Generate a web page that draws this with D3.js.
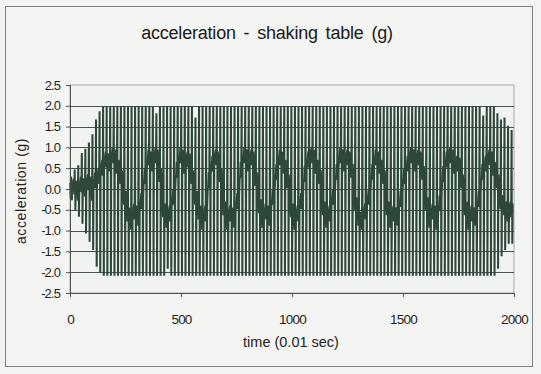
<!DOCTYPE html>
<html>
<head>
<meta charset="utf-8">
<script src="https://cdn.jsdelivr.net/npm/d3@7"></script>
<style>
  body { margin: 0; background: #f3f3f1; }
  svg { display: block; font-family: "Liberation Sans", Arial, sans-serif; }
</style>
</head>
<body>
<svg id="chart" width="541" height="374"></svg>
<script>
// samples per stroke of the table signal (0.01 s per sample)
const strokeStep = 16;

// peak value of each stroke (g)
const highs = [
  0.28, 0.45, 0.55, 0.85, 0.95, 1.1, 1.3, 1.65, 1.85, 1.98,
  1.98, 1.98, 1.98, 1.98, 1.98, 1.98, 1.98, 1.98, 1.98, 1.98,
  1.98, 1.98, 1.98, 1.98, 1.8, 1.98, 1.98, 1.98, 1.98, 1.98,
  1.98, 1.98, 1.98, 1.98, 1.98, 1.7, 1.98, 1.98, 1.98, 1.98,
  1.98, 1.98, 1.98, 1.98, 1.98, 1.98, 1.98, 1.98, 1.98, 1.98,
  1.98, 1.98, 1.98, 1.98, 1.98, 1.98, 1.98, 1.98, 1.98, 1.98,
  1.98, 1.98, 1.98, 1.98, 1.98, 1.98, 1.98, 1.98, 1.98, 1.98,
  1.98, 1.98, 1.98, 1.98, 1.98, 1.98, 1.98, 1.98, 1.98, 1.98,
  1.98, 1.98, 1.98, 1.98, 1.98, 1.98, 1.98, 1.98, 1.98, 1.98,
  1.98, 1.98, 1.98, 1.98, 1.98, 1.98, 1.98, 1.98, 1.98, 1.98,
  1.98, 1.98, 1.98, 1.98, 1.98, 1.98, 1.98, 1.98, 1.98, 1.98,
  1.98, 1.98, 1.98, 1.98, 1.98, 1.98, 1.75, 1.98, 1.98, 1.98,
  1.8, 1.65, 1.7, 1.5, 1.4
];

// trough value of each stroke (g)
const lows = [
  -0.25, -0.5, -0.65, -0.82, -1.05, -1.25, -1.45, -1.85, -2.0, -2.07,
  -2.07, -2.07, -2.07, -2.07, -2.07, -2.07, -2.07, -2.07, -2.07, -2.07,
  -2.07, -2.07, -2.07, -2.07, -2.07, -2.07, -2.07, -1.9, -2.07, -2.07,
  -2.07, -2.07, -2.07, -2.07, -2.07, -2.07, -2.07, -2.07, -2.07, -2.07,
  -2.07, -2.07, -2.07, -2.07, -2.07, -2.07, -2.07, -2.07, -2.07, -2.07,
  -2.07, -2.07, -2.07, -2.07, -2.07, -2.07, -2.07, -2.07, -2.07, -2.07,
  -2.07, -2.07, -2.07, -2.07, -2.07, -2.07, -2.07, -2.07, -2.07, -2.07,
  -2.07, -2.07, -2.07, -2.07, -2.07, -2.07, -2.07, -2.07, -2.07, -2.07,
  -2.07, -2.07, -2.07, -2.07, -2.07, -2.07, -2.07, -2.07, -2.07, -2.07,
  -2.07, -2.07, -2.07, -2.07, -2.07, -2.07, -2.07, -2.07, -2.07, -2.07,
  -2.07, -2.07, -2.07, -2.07, -2.07, -2.07, -2.07, -2.07, -2.07, -2.07,
  -2.07, -2.07, -2.07, -2.07, -2.07, -2.07, -2.07, -2.07, -2.07, -2.07,
  -1.9, -1.6, -1.45, -1.3, -1.3
];

// slow level the trace rests on between strokes (g)
const levels = [
  -0.05, 0.05, -0.1, 0.1, 0.0, 0.15, -0.1, 0.2, 0.3, 0.5,
  0.7, 0.6, 0.8, 0.55, 0.3, -0.2, -0.6, -0.8, -0.55, -0.7,
  -0.3, 0.3, 0.75, 0.6, 0.8, 0.35, -0.5, -0.75, -0.6, -0.2,
  0.45, 0.8, 0.55, 0.7, 0.3, -0.2, -0.55, -0.8, -0.6, 0.2,
  0.6, 0.75, 0.35, -0.45, -0.8, -0.6, -0.75, -0.3, 0.45, 0.8,
  0.6, 0.75, 0.25, -0.4, -0.75, -0.55, -0.7, -0.2, 0.4, 0.75,
  0.55, 0.2, -0.5, -0.8, -0.6, -0.3, 0.35, 0.7, 0.8, 0.55,
  0.3, -0.45, -0.75, -0.6, -0.2, 0.4, 0.8, 0.6, 0.75, 0.45,
  -0.35, -0.7, -0.8, -0.55, -0.2, 0.4, 0.75, 0.55, 0.3, -0.45,
  -0.75, -0.6, -0.7, -0.25, 0.3, 0.6, 0.8, 0.6, 0.75, 0.4,
  -0.35, -0.75, -0.55, -0.8, -0.35, 0.35, 0.7, 0.8, 0.55, 0.6,
  0.2, -0.45, -0.8, -0.6, -0.7, -0.25, 0.4, 0.6, 0.75, 0.5,
  0.2, -0.3, -0.45, -0.6, -0.5
];

// small wobble of the trace around its rest level (g), before and after each stroke
const wobbleBefore = [0.2, -0.18];
const wobbleAfter = [0.15];

const xTicks = [0, 500, 1000, 1500, 2000];
const yTicks = [-2.5, -2, -1.5, -1, -0.5, 0, 0.5, 1, 1.5, 2, 2.5];

const svg = d3.select("#chart");

const x = d3.scaleLinear().domain([0, 2000]).range([70, 514]);
const y = d3.scaleLinear().domain([-2.5, 2.5]).range([293, 85]);

// outer chart frame
svg.append("rect")
  .attr("x", 5.5).attr("y", 6.5)
  .attr("width", 527).attr("height", 360)
  .attr("fill", "#f4f4f2")
  .attr("stroke", "#7f837f");

// plot area
svg.append("rect")
  .attr("x", x(0)).attr("y", y(2.5))
  .attr("width", x(2000) - x(0)).attr("height", y(-2.5) - y(2.5))
  .attr("fill", "#f1f3f0")
  .attr("stroke", "#a4aaa5");

// gridlines
svg.append("g")
  .selectAll("line")
  .data(yTicks.filter((d) => d > -2.5 && d < 2.5))
  .join("line")
  .attr("x1", x(0)).attr("x2", x(2000))
  .attr("y1", (d) => Math.round(y(d)) + 0.5)
  .attr("y2", (d) => Math.round(y(d)) + 0.5)
  .attr("stroke", "#4a554e")
  .attr("stroke-width", 1);

// build the trace: wobble at rest level, then up to the peak, down to the trough, back up
const points = [];
highs.forEach((hi, i) => {
  const t0 = i * strokeStep;
  const lv = levels[i];
  wobbleBefore.forEach((w, k) => points.push([t0 + k * 2, lv + w]));
  points.push([t0 + 4, hi]);
  points.push([t0 + 6.5, hi]);
  points.push([t0 + 7, lows[i]]);
  points.push([t0 + 9.5, lows[i]]);
  wobbleAfter.forEach((w, k) => points.push([t0 + 11 + k * 3, lv + w]));
});

const line = d3.line()
  .x((d) => x(d[0]))
  .y((d) => y(d[1]));

svg.append("path")
  .datum(points.filter((d) => d[0] <= 2000))
  .attr("fill", "none")
  .attr("stroke", "#2d4739")
  .attr("stroke-width", 1.5)
  .attr("d", line);

// axes
const fmt = (d) => d.toFixed(1);

svg.append("g")
  .attr("transform", `translate(${x(0)},0)`)
  .call(d3.axisLeft(y).tickValues(yTicks).tickFormat(fmt).tickSize(4).tickPadding(6))
  .call((g) => g.select(".domain").attr("stroke", "#4a554e"))
  .call((g) => g.selectAll(".tick line").attr("stroke", "#4a554e"))
  .call((g) => g.selectAll("text")
    .attr("fill", "#1e1e1e")
    .style("font-size", "13px")
    .style("letter-spacing", "-0.9px"));

svg.append("g")
  .attr("transform", `translate(0,${y(-2.5)})`)
  .call(d3.axisBottom(x).tickValues(xTicks).tickFormat(d3.format("d")).tickSize(4).tickPadding(17))
  .call((g) => g.select(".domain").attr("stroke", "#4a554e"))
  .call((g) => g.selectAll(".tick line").attr("stroke", "#4a554e"))
  .call((g) => g.selectAll("text")
    .attr("fill", "#1e1e1e")
    .style("font-size", "13.5px")
    .style("letter-spacing", "-0.8px"));

// titles
svg.append("text")
  .attr("x", 267).attr("y", 39)
  .attr("text-anchor", "middle")
  .attr("fill", "#1a1a1a")
  .style("font-size", "18px")
  .style("letter-spacing", "-0.2px")
  .style("word-spacing", "3px")
  .text("acceleration - shaking table (g)");

svg.append("text")
  .attr("transform", "translate(26,191) rotate(-90)")
  .attr("text-anchor", "middle")
  .attr("fill", "#1e1e1e")
  .style("font-size", "14px")
  .style("letter-spacing", "0.6px")
  .text("acceleration (g)");

svg.append("text")
  .attr("x", 291).attr("y", 347)
  .attr("text-anchor", "middle")
  .attr("fill", "#1e1e1e")
  .style("font-size", "14.5px")
  .style("letter-spacing", "0px")
  .text("time (0.01 sec)");
</script>
</body>
</html>
